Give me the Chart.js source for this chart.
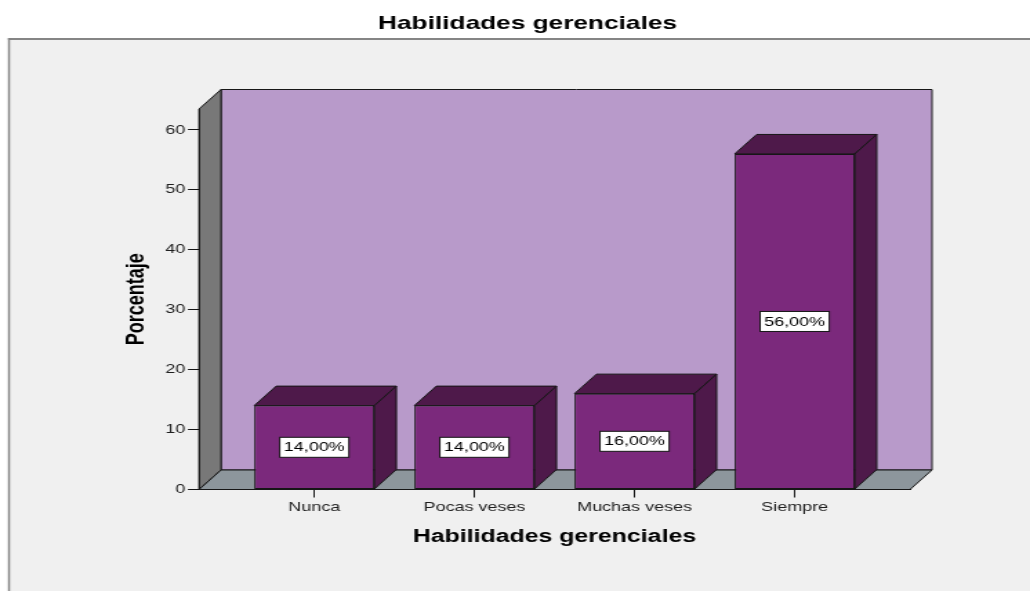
<!DOCTYPE html>
<html>
<head>
<meta charset="utf-8">
<script src="https://cdn.jsdelivr.net/npm/chart.js@4/dist/chart.umd.min.js"></script>
<style>
  html, body { margin: 0; padding: 0; background: #ffffff; overflow: hidden; }
  canvas { display: block; }
</style>
</head>
<body>
<!-- The chart is drawn on a 746px-wide bitmap shown 1030px wide: the reference uses wide (horizontally stretched) lettering. -->
<canvas id="chart" width="746" height="591" style="width:1030px;height:591px"></canvas>
<script>
// ---------------- data ----------------
const categories = ['Nunca', 'Pocas veses', 'Muchas veses', 'Siempre'];
const percentages = [14, 14, 16, 56];
const yTickValues = [0, 10, 20, 30, 40, 50, 60];
const yAxisMax = 63.5;
const chartTitle = 'Habilidades gerenciales';
const xAxisTitle = 'Habilidades gerenciales';
const yAxisTitle = 'Porcentaje';

// ---------------- style ----------------
const FONT = '"Liberation Sans", Arial, Helvetica, sans-serif';
const STRETCH = 1030 / 746;
const DEPTH_X = 22 / STRETCH;   // 3D depth offset (horizontal)
const DEPTH_Y = -19.5;          // 3D depth offset (vertical)
const CATEGORY_EDGE_PAD = 0.22; // extra room at both ends of the category axis
const COLORS = {
  page: '#ffffff',
  frame: '#f0f0f0',
  frameLine: '#858585',
  backWall: '#b89aca',
  sideWall: '#787878',
  floor: '#8d969c',
  barFront: '#7b297c',
  barDark: '#4e194a',
  edge: '#161616',
  text: '#1e1e1e'
};

// Category scale with a little extra space before the first and after the last category
class PaddedCategoryScale extends Chart.CategoryScale {
  buildTicks() {
    const ticks = super.buildTicks();
    this._startValue -= CATEGORY_EDGE_PAD;
    this._valueRange += CATEGORY_EDGE_PAD * 2;
    return ticks;
  }
}
PaddedCategoryScale.id = 'paddedCategory';
PaddedCategoryScale.defaults = Chart.CategoryScale.defaults;
Chart.register(PaddedCategoryScale);

function poly(ctx, pts, fill) {
  ctx.beginPath();
  ctx.moveTo(pts[0][0], pts[0][1]);
  for (let i = 1; i < pts.length; i++) ctx.lineTo(pts[i][0], pts[i][1]);
  ctx.closePath();
  ctx.fillStyle = fill;
  ctx.fill();
  ctx.stroke();
}

const spss3dPlugin = {
  id: 'spss3d',
  beforeDraw(chart) {
    const { ctx, chartArea: a, width, height } = chart;
    const fx = 8 / STRETCH, fy = 38;
    ctx.save();
    ctx.fillStyle = COLORS.page;
    ctx.fillRect(0, 0, width, height);
    ctx.fillStyle = COLORS.frame;
    ctx.fillRect(fx, fy, width - fx, height - fy);
    ctx.strokeStyle = COLORS.frameLine;
    ctx.lineWidth = 2;
    ctx.beginPath(); ctx.moveTo(fx, fy + 1); ctx.lineTo(width, fy + 1); ctx.stroke();
    ctx.lineWidth = 2 / STRETCH;
    ctx.beginPath(); ctx.moveTo(fx + 1 / STRETCH, fy); ctx.lineTo(fx + 1 / STRETCH, height); ctx.stroke();

    // 3D box: back wall, left side wall, floor
    ctx.strokeStyle = COLORS.edge;
    ctx.lineWidth = 1;
    ctx.lineJoin = 'miter';
    const L = a.left, R = a.right, T = a.top, B = a.bottom;
    poly(ctx, [[L + DEPTH_X, T + DEPTH_Y], [R + DEPTH_X, T + DEPTH_Y], [R + DEPTH_X, B + DEPTH_Y], [L + DEPTH_X, B + DEPTH_Y]], COLORS.backWall);
    poly(ctx, [[L, T], [L + DEPTH_X, T + DEPTH_Y], [L + DEPTH_X, B + DEPTH_Y], [L, B]], COLORS.sideWall);
    poly(ctx, [[L, B], [L + DEPTH_X, B + DEPTH_Y], [R + DEPTH_X, B + DEPTH_Y], [R, B]], COLORS.floor);
    ctx.restore();
  },
  beforeDatasetsDraw(chart) {
    const { ctx } = chart;
    const meta = chart.getDatasetMeta(0);
    ctx.save();
    ctx.strokeStyle = COLORS.edge;
    ctx.lineWidth = 1;
    meta.data.forEach((bar) => {
      const p = bar.getProps(['x', 'y', 'base', 'width'], true);
      const x0 = p.x - p.width / 2, x1 = p.x + p.width / 2;
      const top = Math.min(p.y, p.base), base = Math.max(p.y, p.base);
      // top face
      poly(ctx, [[x0, top], [x0 + DEPTH_X, top + DEPTH_Y], [x1 + DEPTH_X, top + DEPTH_Y], [x1, top]], COLORS.barDark);
      // right side face
      poly(ctx, [[x1, top], [x1 + DEPTH_X, top + DEPTH_Y], [x1 + DEPTH_X, base + DEPTH_Y], [x1, base]], COLORS.barDark);
    });
    ctx.restore();
  },
  afterDatasetsDraw(chart) {
    const { ctx } = chart;
    const meta = chart.getDatasetMeta(0);
    ctx.save();
    ctx.font = '13px ' + FONT;
    ctx.textAlign = 'center';
    ctx.textBaseline = 'middle';
    meta.data.forEach((bar, i) => {
      const p = bar.getProps(['x', 'y', 'base'], true);
      const label = percentages[i].toFixed(2).replace('.', ',') + '%';
      const tw = ctx.measureText(label).width;
      const w = tw + 6, h = 20;
      const cx = p.x, cy = (p.y + p.base) / 2;
      ctx.fillStyle = '#ffffff';
      ctx.fillRect(cx - w / 2, cy - h / 2, w, h);
      ctx.strokeStyle = COLORS.edge;
      ctx.lineWidth = 1;
      ctx.strokeRect(cx - w / 2, cy - h / 2, w, h);
      ctx.fillStyle = '#000000';
      ctx.fillText(label, cx, cy + 0.5);
    });
    ctx.restore();
  }
};

const tickFont = { family: FONT, size: 13 };
const titleFont = { family: FONT, size: 18, weight: 'bold' };

new Chart(document.getElementById('chart'), {
  type: 'bar',
  data: {
    labels: categories,
    datasets: [{
      label: 'Porcentaje',
      data: percentages,
      backgroundColor: COLORS.barFront,
      borderColor: COLORS.edge,
      borderWidth: 1,
      borderSkipped: false,
      categoryPercentage: 1,
      barPercentage: 0.75
    }]
  },
  options: {
    responsive: false,
    animation: false,
    devicePixelRatio: 1,
    layout: { padding: { left: 86, right: 67.9, top: 0, bottom: 43.2 } },
    plugins: {
      legend: { display: false },
      tooltip: { enabled: false },
      title: {
        display: true,
        text: chartTitle,
        color: '#000000',
        font: { family: FONT, size: 19, weight: 'bold' },
        padding: { top: 11.9, bottom: 74.3 }
      }
    },
    scales: {
      x: {
        type: 'paddedCategory',
        offset: true,
        grid: { display: true, drawOnChartArea: false, drawTicks: true, tickLength: 8, offset: false, color: COLORS.edge },
        border: { display: true, color: COLORS.edge, width: 1 },
        ticks: { padding: 2, font: tickFont, color: COLORS.text, maxRotation: 0, autoSkip: false },
        title: { display: true, text: xAxisTitle, color: '#000000', font: titleFont, padding: { top: 0, bottom: 0 } },
        afterFit(scale) { scale.height = 58.3; }
      },
      y: {
        min: 0,
        max: yAxisMax,
        afterBuildTicks(scale) { scale.ticks = yTickValues.map(v => ({ value: v })); },
        grid: { display: true, drawOnChartArea: false, drawTicks: true, tickLength: 8, color: COLORS.edge },
        border: { display: true, color: COLORS.edge, width: 1 },
        ticks: { padding: 2, font: tickFont, color: COLORS.text },
        title: { display: true, text: yAxisTitle, color: '#000000', font: titleFont, padding: { top: 2, bottom: 0 } },
        afterFit(scale) { scale.width = 58.13; }
      },
      yRight: {
        position: 'right',
        display: true,
        grid: { display: false },
        border: { display: false },
        ticks: { display: false },
        afterFit(scale) { scale.width = 19.02; }
      }
    }
  },
  plugins: [spss3dPlugin]
});
</script>
</body>
</html>
